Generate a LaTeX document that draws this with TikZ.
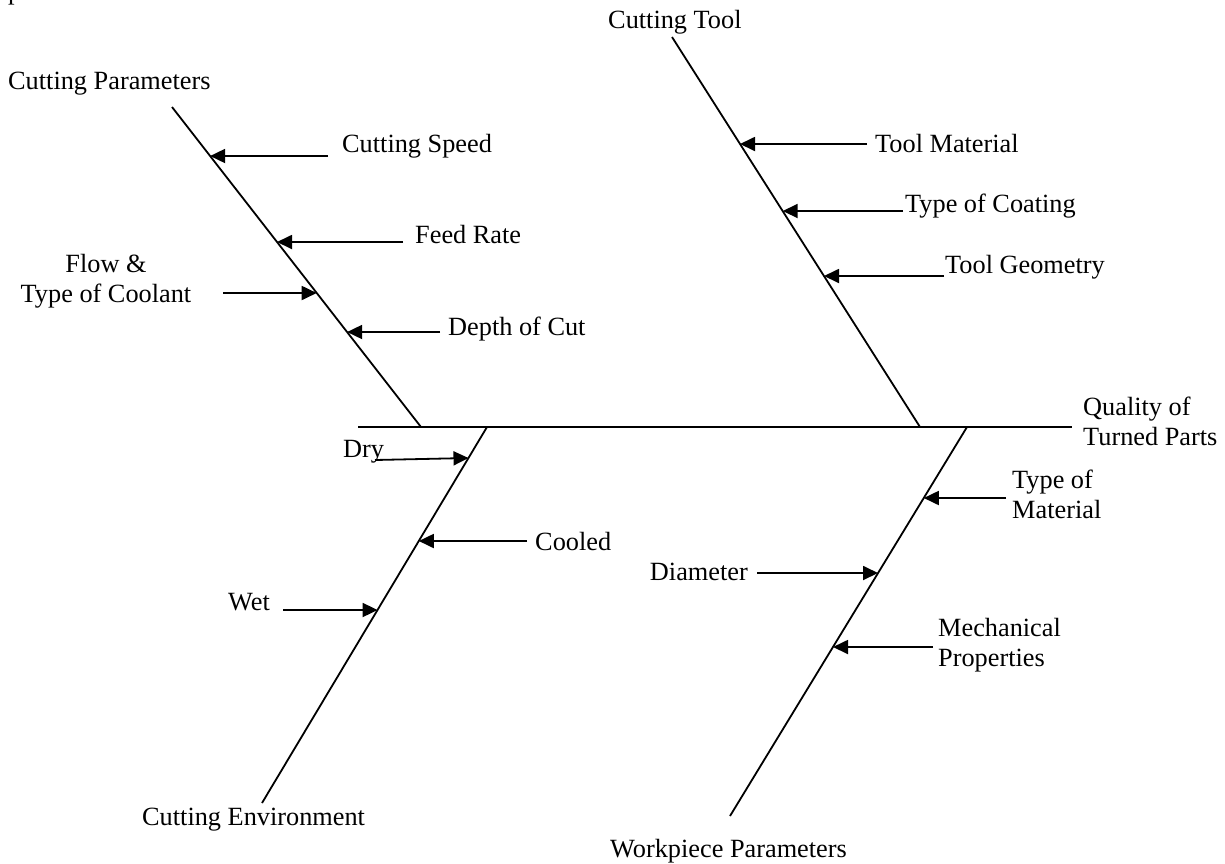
\documentclass[tikz,border=0pt]{standalone}
\usepackage{fontspec}
\setmainfont{Liberation Serif}
\usetikzlibrary{arrows.meta}
\begin{document}
\begin{tikzpicture}[x=1pt,y=-1pt,
  bone/.style={line width=1.8pt},
  cause/.style={line width=1.8pt,-{Triangle[length=15pt,width=14pt]}},
  lbl/.style={inner sep=0pt,anchor=base west,font=\fontsize{26.3}{29.5}\selectfont},
  mlbl/.style={lbl,align=left},
  ]
\useasboundingbox (0,0) rectangle (1225,863);
\begin{scope}
\clip (0,0) rectangle (1225,863);
\node[lbl] (pfrag) at (8,-1) {p};
\end{scope}

% spine
\coordinate (spineL) at (358,427);
\coordinate (spineR) at (1072,427);
\draw[bone] (spineL) -- (spineR);
\node[mlbl] (effect) at (1083,445) {Quality of\\Turned Parts};

% Cutting Parameters bone
\coordinate (cpTop) at (172,107);
\coordinate (cpBot) at (421,427);
\draw[bone] (cpTop) -- (cpBot);
\node[lbl] (cp) at (8,89) {Cutting Parameters};
\coordinate (csT) at (328,156);  \coordinate (csH) at (210.1,156);
\coordinate (frT) at (403,242);  \coordinate (frH) at (277.0,242);
\coordinate (flT) at (223,293);  \coordinate (flH) at (316.7,293);
\coordinate (dcT) at (440,332);  \coordinate (dcH) at (347.1,332);
\draw[cause] (csT) -- (csH);
\draw[cause] (frT) -- (frH);
\draw[cause] (flT) -- (flH);
\draw[cause] (dcT) -- (dcH);
\node[lbl] (cs) at (342,152) {Cutting Speed};
\node[lbl] (fr) at (415,243) {Feed Rate};
\node[lbl,align=center,anchor=base] (fl) at (106,302) {Flow \&\\Type of Coolant};
\node[lbl] (dc) at (448,335) {Depth of Cut};

% Cutting Tool bone
\coordinate (ctTop) at (672,37);
\coordinate (ctBot) at (920,427);
\draw[bone] (ctTop) -- (ctBot);
\node[lbl] (ct) at (608,28) {Cutting Tool};
\coordinate (tmT) at (867,144);  \coordinate (tmH) at (740,144);
\coordinate (tcT) at (903,211);  \coordinate (tcH) at (782.7,211);
\coordinate (tgT) at (944,276);  \coordinate (tgH) at (824,276);
\draw[cause] (tmT) -- (tmH);
\draw[cause] (tcT) -- (tcH);
\draw[cause] (tgT) -- (tgH);
\node[lbl] (tm) at (875,152) {Tool Material};
\node[lbl] (tc) at (905,212) {Type of Coating};
\node[lbl] (tg) at (945,273) {Tool Geometry};

% Cutting Environment bone
\coordinate (ceTop) at (487,427);
\coordinate (ceBot) at (262,803);
\draw[bone] (ceTop) -- (ceBot);
\node[lbl] (ce) at (142,825) {Cutting Environment};
\coordinate (dyT) at (375,460);  \coordinate (dyH) at (468.5,458);
\coordinate (coT) at (527,541);  \coordinate (coH) at (418.8,541);
\coordinate (wtT) at (283,610);  \coordinate (wtH) at (377.6,610);
\draw[cause] (dyT) -- (dyH);
\draw[cause] (coT) -- (coH);
\draw[cause] (wtT) -- (wtH);
\node[lbl] (dy) at (343,457) {Dry};
\node[lbl] (co) at (535,550) {Cooled};
\node[lbl] (wt) at (228,610) {Wet};

% Workpiece Parameters bone
\coordinate (wpTop) at (967,427);
\coordinate (wpBot) at (730,816);
\draw[bone] (wpTop) -- (wpBot);
\node[lbl] (wp) at (610,857) {Workpiece Parameters};
\coordinate (mtT) at (1006,498); \coordinate (mtH) at (923.8,498);
\coordinate (diT) at (757,573);  \coordinate (diH) at (878,573);
\coordinate (meT) at (933,647);  \coordinate (meH) at (833,647);
\draw[cause] (mtT) -- (mtH);
\draw[cause] (diT) -- (diH);
\draw[cause] (meT) -- (meH);
\node[mlbl] (mt) at (1012,518) {Type of\\Material};
\node[lbl,anchor=base east] (di) at (748,580) {Diameter};
\node[mlbl] (me) at (938,666) {Mechanical\\Properties};
\end{tikzpicture}
\end{document}
